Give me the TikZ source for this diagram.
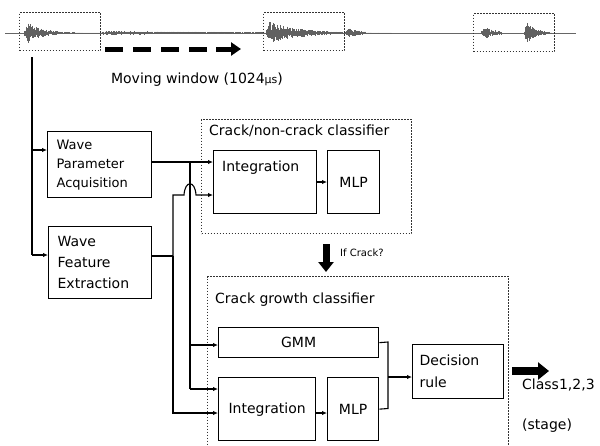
\documentclass[tikz,border=0pt]{standalone}
\usepackage{fontspec}
\setmainfont{DejaVu Sans}
\usetikzlibrary{arrows.meta}
\newcommand\wburst[4]{% x0, n, amp, tau
  \foreach \i in {0,...,#2}{%
    \pgfmathsetmacro\xx{#1+0.5*\i}%
    \pgfmathsetmacro\env{#3*exp(-0.5*\i/#4)*min(1,(\i+1)/8)}%
    \pgfmathsetmacro\aa{\env*(0.2+0.8*rnd)}%
    \pgfmathsetmacro\bb{\env*(0.2+0.8*rnd)}%
    \draw[wave] (\xx,33-\aa) -- (\xx,33+\bb);
  }}
\begin{document}
\begin{tikzpicture}[x=1pt,y=-1pt,
  box/.style={draw, line width=1.3pt, inner sep=0pt, anchor=north west, font=\fontsize{14}{17}\selectfont},
  dotbox/.style={draw, line width=1pt, dash pattern=on 1.1pt off 1.9pt, black!80, inner sep=0pt, anchor=north west},
  wire/.style={line width=1.1pt},
  arr/.style={line width=1.1pt, -{Latex[length=5pt,width=4.5pt]}},
  fat/.style={line width=7pt, -{Triangle[length=10pt,width=15pt]}},
  wave/.style={line width=0.55pt, black!62},
  lab/.style={font=\fontsize{14}{17}\selectfont, inner sep=0pt}
]
\fill[white] (0,0) rectangle (600,445);
\useasboundingbox (0,0) rectangle (600,445);
% waveform
\pgfmathsetseed{11}
\draw[line width=0.9pt, black!60] (5,33) -- (576,33);
\wburst{24}{160}{14}{16}
\wburst{100}{330}{2}{200}
\wburst{266}{250}{13}{30}
\wburst{345}{40}{6}{14}
\wburst{481}{40}{8}{14}
\wburst{524}{55}{14}{10}
% windows
\node[dotbox, minimum width=81, minimum height=38] (w1) at (19,12) {};
\node[dotbox, minimum width=81, minimum height=38] (w2) at (263,12) {};
\node[dotbox, minimum width=81, minimum height=38] (w3) at (473,13) {};
% moving arrow
\coordinate (m0) at (105,49);
\coordinate (m1) at (216,49);
\coordinate (m2) at (241,49);
\draw[line width=5pt, dash pattern=on 18pt off 10pt] (m0) -- (m1);
\draw[line width=5pt, -{Triangle[length=10pt,width=13pt]}] (m1) -- (m2);
\node[lab, anchor=center] (mw) at (197,80) {Moving window (1024{\fontsize{11}{13}\selectfont μs})};
% left blocks
\node[box, minimum width=104, minimum height=66, text width=86, inner xsep=9pt, align=left,
  font=\fontsize{13}{19}\selectfont] (wpa) at (47,131) {Wave\\Parameter\\Acquisition};
\node[box, minimum width=103, minimum height=72, text width=85, inner xsep=9pt, align=left,
  font=\fontsize{14}{21}\selectfont] (wfe) at (48,226) {Wave\\Feature\\Extraction};
% crack / non-crack classifier
\node[dotbox, minimum width=210, minimum height=114] (cnc) at (201,119) {};
\node[lab, anchor=west] (cnct) at (209,131) {Crack/non-crack classifier};
\node[box, minimum width=103, minimum height=63] (int1) at (213,150) {};
\node[lab, anchor=north west] (int1t) at ([shift={(9,11)}]int1.north west) {Integration};
\node[box, minimum width=52, minimum height=63] (mlp1) at (327,150) {MLP};
\draw[arr] (int1.east |- 0,182) -- (mlp1.west |- 0,182);
% if crack
\coordinate (f0) at (326,244);
\coordinate (f1) at (326,272);
\draw[fat] (f0) -- (f1);
\node[anchor=west, inner sep=0pt, font=\fontsize{10}{12}\selectfont] (ifc) at (340,253) {If Crack?};
% crack growth classifier
\node[dotbox, minimum width=301, minimum height=170] (cgc) at (207,276) {};
\node[lab, anchor=west] (cgct) at (215,300) {Crack growth classifier};
\node[box, minimum width=160, minimum height=30] (gmm) at (218,327) {GMM};
\node[box, minimum width=97, minimum height=63] (int2) at (218,377) {Integration};
\node[box, minimum width=51, minimum height=63] (mlp2) at (327,377) {MLP};
\node[box, minimum width=91, minimum height=54, text width=77, inner xsep=7pt, align=left,
  font=\fontsize{14}{22}\selectfont] (dec) at (412,344) {Decision\\rule};
\draw[arr] (int2.east |- 0,413) -- (mlp2.west |- 0,413);
% input wiring
\coordinate (v0) at (32,57);
\coordinate (v1) at (32,150);
\coordinate (v2) at (32,255);
\draw[wire] (v0) -- (v2);
\draw[arr] (v1) -- (v1 -| wpa.west);
\draw[arr] (v2) -- (v2 -| wfe.west);
\coordinate (p0) at (151,162);
\coordinate (b0) at (190,162);
\coordinate (b1) at (190,345);
\coordinate (b2) at (190,389);
\draw[arr] (p0) -- (p0 -| int1.west);
\draw[wire] (b0) -- (b2);
\draw[arr] (b1) -- (b1 -| gmm.west);
\draw[arr] (b2) -- (b2 -| int2.west);
\coordinate (q0) at (151,256);
\coordinate (q1) at (173,256);
\coordinate (q2) at (173,195);
\coordinate (q3) at (173,413);
\draw[wire] (q0) -- (q1);
\draw[arr] (q1) -- (q2) -- (184,195) .. controls (185,180) and (195,180) .. (196,195) -- (int1.west |- 0,195);
\draw[arr] (q1) -- (q3) -- (q3 -| int2.west);
% output wiring
\coordinate (r0) at (388,342);
\coordinate (r1) at (388,408.5);
\coordinate (r2) at (388,377);
\draw[wire] (gmm.east) -- (r0) -- (r1) -- (mlp2.east);
\draw[arr] (r2) -- (r2 -| dec.west);
\coordinate (c0) at (512,371);
\coordinate (c1) at (549,371);
\draw[fat, line width=8pt, -{Triangle[length=11pt,width=17pt]}] (c0) -- (c1);
\node[lab, anchor=west] (cls) at (522,385) {Class1,2,3};
\node[lab, anchor=west] (stg) at (522,426) {(stage)};
\end{tikzpicture}
\end{document}
